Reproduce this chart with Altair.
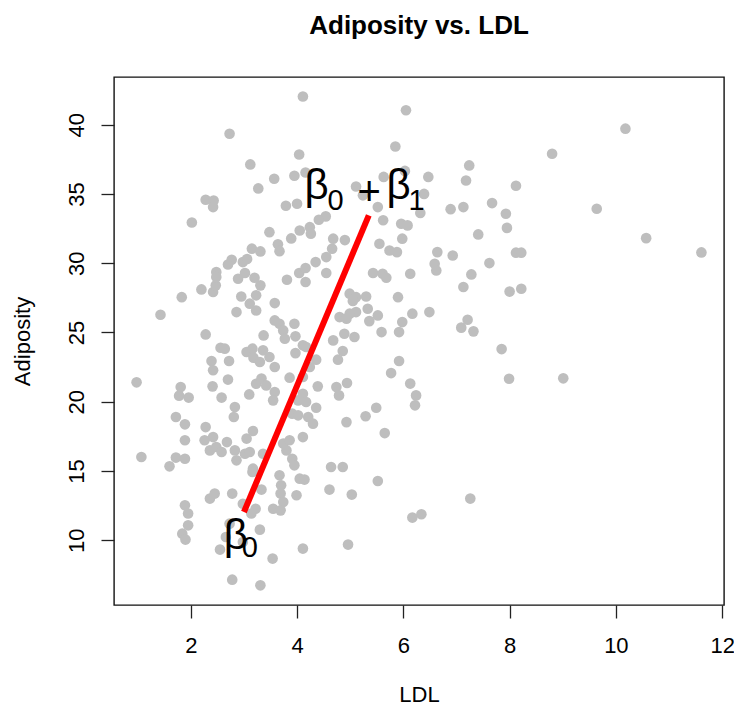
import altair as alt
import pandas as pd

# Scatter data (LDL vs Adiposity)
ldl = [4.11, 2.73, 4.04, 4.16, 3.12, 3.95, 3.57, 3.27, 2.28, 2.43, 2.42, 3.79, 4.00, 2.02, 3.48,
       4.05, 3.89, 3.64, 3.67, 3.15, 3.31, 2.77, 2.70, 2.98, 3.06, 2.48, 3.02, 3.20, 3.81, 4.04,
       4.16, 6.05, 5.85, 7.24, 5.63, 6.03, 6.47, 7.18, 5.11, 5.24, 5.52, 6.39, 6.32, 6.89, 7.13,
       7.67, 7.93, 4.54, 4.41, 4.24, 4.26, 4.68, 4.90, 4.66, 5.62, 5.96, 6.08, 5.98, 5.55, 5.74,
       5.88, 6.64, 6.93, 7.41, 7.95, 7.62, 6.59, 6.62, 5.43, 5.61, 6.13, 4.35, 4.55, 7.28, 4.55,
       10.18, 8.80, 8.12, 9.64, 10.57, 8.12, 8.22, 11.61, 1.83, 1.43, 2.20, 2.42, 2.47, 2.48, 2.86,
       2.95, 2.89, 3.11, 3.23, 3.31, 3.23, 3.58, 4.16, 3.58, 3.67, 3.74, 3.77, 3.95, 3.97, 3.97,
       4.11, 3.37, 2.28, 2.56, 2.64, 3.05, 3.16, 3.18, 3.36, 3.30, 3.48, 3.58, 2.39, 2.42, 2.72,
       2.70, 2.41, 0.98, 1.81, 1.78, 1.96, 2.58, 2.83, 2.81, 3.10, 3.23, 3.33, 3.42, 3.58, 3.55,
       3.86, 4.02, 4.11, 3.91, 4.02, 1.72, 1.89, 2.28, 1.89, 2.26, 2.42, 2.36, 2.48, 2.68, 2.58,
       2.83, 3.05, 3.17, 3.02, 3.11, 1.07, 1.72, 1.89, 1.60, 2.86, 3.17, 3.74, 3.86, 3.80, 3.91,
       4.11, 3.36, 5.68, 7.13, 8.00, 4.99, 5.11, 5.30, 5.05, 5.90, 5.33, 5.11, 4.99, 4.80, 4.93,
       5.52, 5.36, 6.17, 6.49, 5.98, 5.92, 5.59, 7.09, 7.21, 7.32, 7.85, 7.99, 4.68, 4.89, 5.08,
       4.17, 4.36, 4.86, 4.77, 4.24, 4.11, 4.39, 4.74, 4.94, 4.79, 5.92, 5.77, 6.13, 6.24, 6.22,
       4.17, 4.36, 4.21, 4.30, 5.49, 5.29, 4.93, 5.65, 3.95, 4.64, 4.86, 8.22, 9.01, 3.16, 3.67,
       3.70, 3.69, 3.74, 3.55, 3.69, 4.05, 3.99, 4.11, 3.33, 3.22, 2.98, 3.14, 2.78, 2.45, 2.36,
       1.89, 1.95, 1.95, 1.84, 1.90, 2.73, 2.66, 2.55, 3.30, 2.98, 3.54, 2.78, 3.31, 4.14, 5.52,
       4.61, 5.03, 7.26, 6.17, 6.34, 4.96]
adiposity = [42.03, 39.34, 37.85, 36.55, 37.13, 36.31, 36.10, 35.40, 34.58, 34.53, 34.05, 34.15, 34.29, 32.94, 32.24,
             32.36, 31.79, 31.36, 30.87, 31.05, 30.85, 30.25, 29.91, 30.08, 30.30, 29.36, 29.29, 28.95, 28.81, 29.29,
             29.65, 41.04, 38.42, 37.06, 36.23, 36.66, 36.23, 35.97, 35.54, 34.90, 34.05, 35.00, 33.62, 33.90, 34.05,
             34.34, 33.57, 33.38, 33.14, 32.60, 32.13, 31.77, 31.67, 31.05, 33.10, 32.85, 32.73, 31.77, 31.40, 30.92,
             30.80, 30.80, 30.56, 32.08, 32.55, 30.01, 29.96, 29.48, 29.29, 29.24, 29.24, 30.08, 30.44, 29.19, 29.29,
             39.71, 37.90, 35.59, 33.93, 31.81, 30.76, 30.76, 30.78, 27.55, 26.28, 28.11, 27.92, 28.40, 29.00, 26.47,
             27.60, 28.88, 27.08, 26.59, 28.40, 27.68, 27.12, 28.64, 25.87, 25.63, 25.15, 24.55, 25.63, 24.72, 23.51,
             24.07, 24.79, 24.86, 23.90, 23.83, 23.59, 23.83, 23.18, 23.71, 22.87, 23.23, 22.51, 22.94, 22.27, 22.94,
             21.60, 21.11, 21.40, 21.06, 20.44, 20.30, 20.30, 19.62, 18.90, 20.53, 21.30, 21.67, 21.18, 20.70, 20.10,
             21.74, 20.10, 20.58, 19.14, 19.02, 18.90, 18.37, 18.17, 17.22, 17.22, 17.45, 16.49, 16.73, 17.09, 16.37,
             16.49, 17.34, 17.89, 16.25, 16.37, 16.01, 15.97, 15.89, 15.34, 15.77, 15.17, 16.98, 17.22, 16.49, 15.89,
             17.45, 16.25, 28.95, 28.28, 27.95, 27.80, 27.55, 27.60, 27.27, 27.55, 26.71, 26.47, 26.36, 26.11, 26.00,
             26.23, 25.82, 26.36, 26.47, 25.75, 25.03, 25.03, 25.35, 25.92, 25.08, 23.80, 21.66, 24.43, 24.91, 24.67,
             23.95, 23.04, 23.66, 23.04, 22.51, 21.79, 21.11, 21.06, 21.35, 20.46, 22.94, 22.07, 21.31, 20.46, 19.74,
             19.98, 19.57, 18.90, 18.42, 19.57, 18.95, 18.53, 17.74, 15.41, 15.29, 15.29, 28.16, 21.69, 14.93, 14.69,
             13.97, 13.37, 12.76, 12.28, 12.16, 14.45, 13.25, 9.40, 13.66, 12.28, 12.64, 11.93, 13.37, 13.37, 13.01,
             12.53, 11.93, 11.08, 10.48, 10.05, 11.20, 10.24, 9.33, 10.77, 9.88, 8.68, 7.16, 6.75, 14.38, 14.28,
             13.66, 13.30, 13.01, 11.64, 11.88, 9.69]

# Red fitted segment
line_ldl = [3.0, 5.35]
line_adiposity = [12.04, 33.45]

# Annotation anchors
lab0_ldl = [2.62]
lab0_adip = [9.35]
lab1_ldl = [4.14]
lab1_adip = [34.65]

FONT = "Liberation Sans"

pts = pd.DataFrame({"LDL": ldl, "Adiposity": adiposity})
seg = pd.DataFrame({"LDL": line_ldl, "Adiposity": line_adiposity})
ann0 = pd.DataFrame({"LDL": lab0_ldl, "Adiposity": lab0_adip})
ann1 = pd.DataFrame({"LDL": lab1_ldl, "Adiposity": lab1_adip})

xs = alt.Scale(domain=[0.555, 12.035], nice=False, zero=False)
ys = alt.Scale(domain=[5.33, 43.44], nice=False, zero=False)

xaxis = alt.Axis(values=[2, 4, 6, 8, 10, 12], domain=False, grid=False,
                 tickSize=13, tickWidth=1.3, tickColor="#222222",
                 labelFont=FONT, labelFontSize=22, labelColor="black", labelPadding=17,
                 labelFlush=False, labelOverlap=False,
                 title="LDL", titleFont=FONT, titleFontSize=22, titleFontWeight="normal",
                 titleColor="black", titleX=305, titleY=96, titleAlign="center",
                 titleBaseline="alphabetic")
yaxis = alt.Axis(values=[10, 15, 20, 25, 30, 35, 40], domain=False, grid=False,
                 tickSize=13, tickWidth=1.3, tickColor="#222222",
                 labelFont=FONT, labelFontSize=22, labelColor="black", labelPadding=25,
                 labelAngle=270, labelAlign="center", labelBaseline="middle",
                 labelFlush=False, labelOverlap=False,
                 title="Adiposity", titleFont=FONT, titleFontSize=22, titleFontWeight="normal",
                 titleColor="black", titleAngle=270, titleX=-85, titleY=264,
                 titleAlign="center", titleBaseline="alphabetic")

X = alt.X("LDL:Q", scale=xs, axis=xaxis)
Y = alt.Y("Adiposity:Q", scale=ys, axis=yaxis)

points = alt.Chart(pts).mark_circle(size=113, color="#BEBEBE", opacity=1).encode(x=X, y=Y)
line = alt.Chart(seg).mark_line(color="#FF0000", strokeWidth=6, strokeCap="butt").encode(x=X, y=Y)


def piece(df, text, dx, dy, size):
    return alt.Chart(df).mark_text(text=text, align="left", baseline="alphabetic",
                                   dx=dx, dy=dy, fontSize=size, font=FONT,
                                   color="black").encode(x=X, y=Y)


labels = [
    piece(ann0, "β", 0, 0, 42),
    piece(ann0, "0", 18, 8, 29),
    piece(ann1, "β", 0, 0, 42),
    piece(ann1, "0", 23, 11, 29),
    piece(ann1, "+", 53, 6, 40),
    piece(ann1, "β", 82, 0, 42),
    piece(ann1, "1", 104, 11, 29),
]

chart = alt.layer(points, line, *labels).properties(
    width=610, height=528,
    background="white",
    title=alt.TitleParams("Adiposity vs. LDL", font=FONT, fontSize=26, fontWeight="bold",
                          color="black", anchor="middle", baseline="alphabetic", offset=17),
    padding={"left": 106, "top": 69, "right": 10, "bottom": 100},
    autosize=alt.AutoSizeParams(type="none"),
).configure_view(stroke="#111111", strokeWidth=1.4)

chart.save("out.html", embed_options={"renderer": "svg", "actions": False})
